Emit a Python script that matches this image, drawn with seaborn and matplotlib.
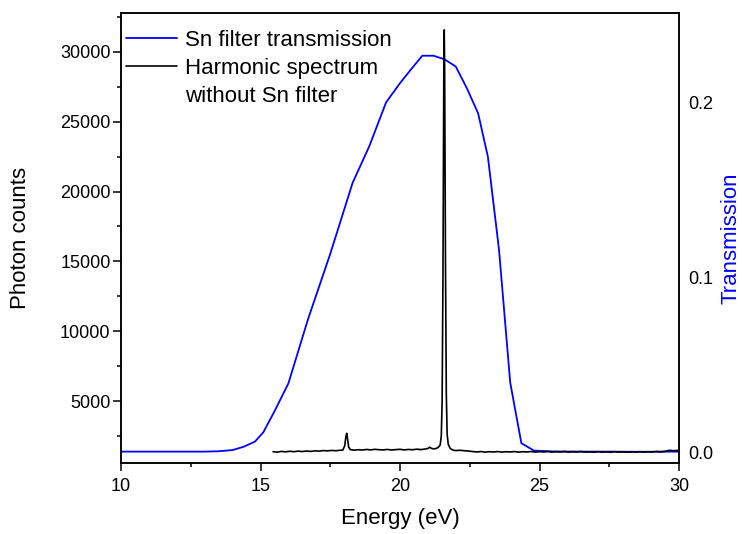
import matplotlib
matplotlib.use("Agg")
import matplotlib.pyplot as plt
import seaborn as sns
import pandas as pd
from matplotlib.ticker import MultipleLocator, FixedLocator

# ---- data -------------------------------------------------------------
trans_energy = [10.0, 11.0, 12.0, 13.0, 13.5, 14.0, 14.4, 14.8, 15.1, 15.5, 16.0,
                16.7, 17.5, 18.3, 18.9, 19.5, 20.0, 20.4, 20.8, 21.2, 21.6, 22.0,
                22.4, 22.8, 23.15, 23.55, 23.95, 24.35, 24.8, 25.5, 26.5, 27.5,
                28.5, 29.5, 30.0]
transmission = [0.0005, 0.0005, 0.0005, 0.0005, 0.0007, 0.0014, 0.0033, 0.0062,
                0.0115, 0.0235, 0.0395, 0.0760, 0.1135, 0.1540, 0.1750, 0.2000,
                0.2110, 0.2190, 0.2267, 0.2267, 0.2246, 0.2205, 0.2080, 0.1938,
                0.1690, 0.1157, 0.0400, 0.0053, 0.0011, 0.0006, 0.0005, 0.0005,
                0.0004, 0.0005, 0.0005]

spec_energy = [15.45, 15.6, 15.75, 15.9, 16.05, 16.2, 16.35, 16.5, 16.65, 16.8, 16.95,
               17.1, 17.25, 17.4, 17.55, 17.7, 17.85, 17.95, 18.02, 18.06, 18.09, 18.12,
               18.16, 18.22, 18.35, 18.5, 18.65, 18.8, 18.95, 19.1, 19.25, 19.4, 19.55,
               19.7, 19.85, 20.0, 20.15, 20.3, 20.45, 20.6, 20.75, 20.9, 21.0, 21.06,
               21.12, 21.2, 21.3, 21.38, 21.44, 21.48, 21.51, 21.54, 21.57, 21.585,
               21.6, 21.63, 21.66, 21.69, 21.73, 21.8, 21.9, 22.0, 22.15, 22.3, 22.45,
               22.6, 22.75, 22.9, 23.05, 23.2, 23.35, 23.5, 23.65, 23.8, 23.95, 24.1,
               24.25, 24.4, 24.55, 24.7, 24.85, 25.0, 25.15, 25.3, 25.45, 25.6, 25.75,
               25.9, 26.05, 26.2, 26.35, 26.5, 26.65, 26.8, 26.95, 27.1, 27.25, 27.4,
               27.55, 27.7, 27.85, 28.0, 28.15, 28.3, 28.45, 28.6, 28.75, 28.9, 29.05,
               29.2, 29.35, 29.5, 29.6, 29.7, 29.8, 29.9, 30.0]
spec_counts = [1370, 1340, 1390, 1360, 1400, 1370, 1410, 1380, 1420, 1390, 1430,
               1410, 1450, 1430, 1460, 1440, 1470, 1490, 1800, 2450, 2690, 2300,
               1700, 1520, 1480, 1510, 1490, 1530, 1500, 1540, 1510, 1500, 1530,
               1490, 1520, 1540, 1500, 1530, 1510, 1550, 1520, 1560, 1600, 1690,
               1620, 1570, 1600, 1700, 1850, 2500, 5000, 14000, 28500, 31580,
               29000, 15000, 5500, 2600, 1900, 1600, 1480, 1450, 1470, 1440, 1420,
               1380, 1350, 1380, 1340, 1370, 1350, 1380, 1340, 1370, 1350, 1380,
               1340, 1370, 1350, 1380, 1340, 1370, 1350, 1380, 1340, 1370, 1350,
               1380, 1340, 1370, 1350, 1380, 1340, 1360, 1330, 1370, 1340, 1360,
               1330, 1370, 1340, 1360, 1330, 1360, 1340, 1370, 1340, 1360, 1350,
               1380, 1360, 1390, 1450, 1470, 1440, 1460, 1450]

x_ticks = [10, 15, 20, 25, 30]
left_ticks = [5000, 10000, 15000, 20000, 25000, 30000]
right_ticks = [0.0, 0.1, 0.2]

labels = ["Sn filter transmission", "Harmonic spectrum", "without Sn filter"]

# ---- style ------------------------------------------------------------
sns.set_style("ticks")
plt.rcParams["font.family"] = ["Liberation Sans", "DejaVu Sans"]
plt.rcParams["axes.linewidth"] = 1.1
plt.rcParams["text.color"] = "black"
plt.rcParams["xtick.color"] = "black"
plt.rcParams["ytick.color"] = "black"
plt.rcParams["axes.labelcolor"] = "black"

fig = plt.figure(figsize=(7.42, 5.34), dpi=100)
ax = fig.add_axes([121 / 742, 1 - 463 / 534, 558 / 742, 450 / 534])
ax2 = ax.twinx()

df_t = pd.DataFrame({"E": trans_energy, "T": transmission})
df_s = pd.DataFrame({"E": spec_energy, "C": spec_counts})

sns.lineplot(data=df_t, x="E", y="T", ax=ax2, color="#0000ff", lw=1.3,
             sort=False, label=labels[0], legend=False)
sns.lineplot(data=df_s, x="E", y="C", ax=ax, color="black", lw=1.2,
             sort=False, label=labels[1], legend=False)

ax.set_zorder(ax2.get_zorder() + 1)
ax.patch.set_visible(False)

ax.set_xlim(10, 30)
ax.set_ylim(560, 32790)
ax2.set_ylim(-0.006, 0.2511)

ax.xaxis.set_major_locator(FixedLocator(x_ticks))
ax.xaxis.set_minor_locator(MultipleLocator(2.5))
ax.yaxis.set_major_locator(FixedLocator(left_ticks))
ax.yaxis.set_minor_locator(MultipleLocator(2500))
ax2.yaxis.set_major_locator(FixedLocator(right_ticks))
ax2.yaxis.set_minor_locator(FixedLocator([]))
ax2.set_yticklabels([f"{v:.1f}" for v in right_ticks])

ax.tick_params(axis="x", which="major", direction="out", length=5.5, width=1.1,
               labelsize=13, pad=5, top=False, colors="black")
ax.tick_params(axis="x", which="minor", direction="out", length=3, width=1.1, top=False,
               colors="black")
ax.tick_params(axis="y", which="major", direction="out", length=5.5, width=1.1,
               labelsize=13, pad=2, right=False, colors="black")
ax.tick_params(axis="y", which="minor", direction="out", length=3, width=1.1, right=False,
               colors="black")
ax2.tick_params(axis="y", which="both", length=0, labelsize=13, pad=6.5, colors="black")

for a in (ax, ax2):
    for s in a.spines.values():
        s.set_visible(True)
        s.set_color("black")
        s.set_linewidth(1.1)

ax.set_xlabel("Energy (eV)", fontsize=16, color="black")
ax.set_ylabel("Photon counts", fontsize=16, color="black")
ax2.set_ylabel("Transmission", fontsize=16, color="#0000ff")
ax.xaxis.set_label_coords(0.5, -0.10)
ax.yaxis.set_label_coords(-0.162, 0.5)
ax2.yaxis.set_label_coords(1.074, 0.5)

h_blue = ax2.get_lines()[0]
h_black = ax.get_lines()[0]
h_blank = plt.Line2D([], [], color="none")
leg = ax.legend([h_blue, h_black, h_blank], labels, loc="upper left",
                bbox_to_anchor=(0.009, 0.963), frameon=False, fontsize=16,
                handlelength=2.3, handletextpad=0.35, labelspacing=0.32,
                borderpad=0, borderaxespad=0)
for t in leg.get_texts():
    t.set_color("black")

fig.savefig("out.png", dpi=100)
